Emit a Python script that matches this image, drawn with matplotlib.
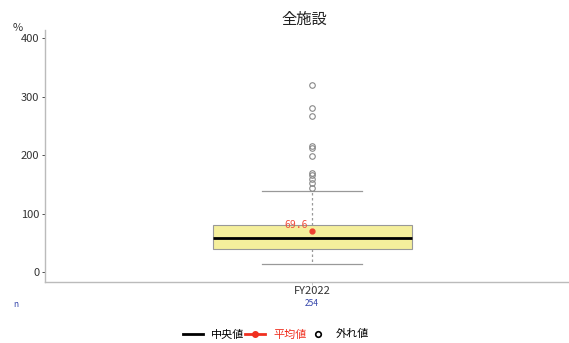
import matplotlib.pyplot as plt
from matplotlib.lines import Line2D

plt.rcParams['font.family'] = ['Noto Sans CJK JP', 'DejaVu Sans']

category = "FY2022"
n_count = 254
q1, median, q3 = 39, 58, 80
whisker_lo, whisker_hi = 14, 139
mean_val = 69.6
outliers = [144, 152, 159, 165, 170, 199, 212, 215, 266, 280, 319]

fig = plt.figure(figsize=(5.69, 3.43), dpi=100)
ax = fig.add_axes([0.079, 0.178, 0.921, 0.735])

stats = [dict(med=median, q1=q1, q3=q3, whislo=whisker_lo, whishi=whisker_hi,
              fliers=outliers, label=category)]
ax.bxp(stats, positions=[0], widths=0.38, patch_artist=True, showcaps=True,
       boxprops=dict(facecolor="#f5ef9c", edgecolor="#999999", linewidth=0.8),
       medianprops=dict(color="black", linewidth=2),
       whiskerprops=dict(color="#999999", linestyle=(0, (2, 2)), linewidth=0.9),
       capprops=dict(color="#999999", linewidth=0.9),
       capwidths=0.19,
       flierprops=dict(marker="o", markersize=4, markerfacecolor="none",
                       markeredgecolor="#888888", markeredgewidth=0.8))

ax.plot([0], [mean_val], "o", color="#f04030", markersize=3.5, zorder=5)
ax.text(-0.008, mean_val + 2, f"{mean_val:.1f}", color="#f05040", fontsize=7,
        ha="right", va="bottom", family="DejaVu Sans Mono")

ax.set_xlim(-0.51, 0.49)
ax.set_ylim(-17, 414)
ax.set_yticks([0, 100, 200, 300, 400])
ax.set_xticks([0])
ax.set_xticklabels([category], fontsize=8, color="#333333")
ax.tick_params(axis="y", labelsize=8, colors="#333333", length=2, width=0.6,
               pad=2)
ax.tick_params(axis="x", length=2, width=0.6, color="#bbbbbb", pad=1)
for s in ["top", "right"]:
    ax.spines[s].set_visible(False)
for s in ["left", "bottom"]:
    ax.spines[s].set_color("#bbbbbb")
    ax.spines[s].set_linewidth(1.0)

fig.text(0.535, 0.945, "全施設", fontsize=11, ha="center", va="center",
         color="#222222")
fig.text(0.022, 0.918, "%", fontsize=8, ha="left", va="center",
         color="#333333")
fig.text(0.027, 0.113, "n", fontsize=6, ha="center", va="center",
         color="#3344aa")
ax.text(0, -0.087, str(n_count), transform=ax.get_xaxis_transform(),
        fontsize=6, ha="center", va="center", color="#3344aa")

handles = [
    Line2D([], [], color="black", linewidth=2),
    Line2D([], [], color="#f03020", linewidth=2, marker="o", markersize=4),
    Line2D([], [], color="none", marker="o", markerfacecolor="none",
           markeredgecolor="black", markeredgewidth=1.2, markersize=4),
]
leg = fig.legend(handles, ["中央値", "平均値", "外れ値"], loc="center",
                 bbox_to_anchor=(0.485, 0.025), ncol=3, frameon=False,
                 fontsize=8, handlelength=1.8, columnspacing=0.1,
                 handletextpad=0.7)
leg.get_texts()[1].set_color("#f03020")

fig.savefig("out.png", dpi=100)
